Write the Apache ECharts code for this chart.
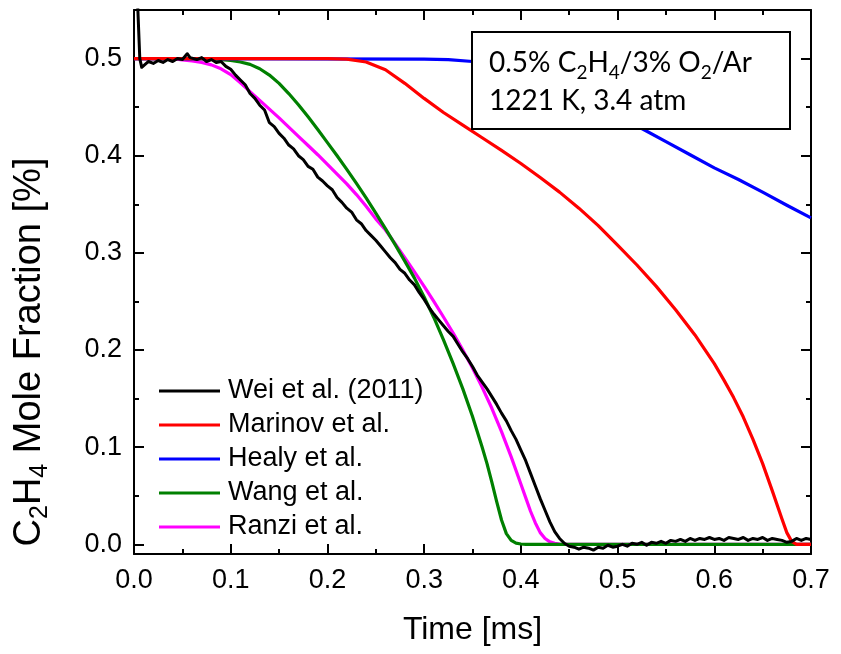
<!DOCTYPE html>
<html>
<head>
<meta charset="utf-8">
<script src="https://cdn.jsdelivr.net/npm/echarts@6/dist/echarts.min.js"></script>
<style>html,body{margin:0;padding:0;background:#fff;}#c{width:841px;height:654px;}</style>
</head>
<body>
<div id="c"></div>
<script>
// ---- data (time in ms, C2H4 mole fraction in %) ----
const legendNames = ['Wei et al. (2011)', 'Marinov et al.', 'Healy et al.', 'Wang et al.', 'Ranzi et al.'];
const xTickValues = [0, 0.1, 0.2, 0.3, 0.4, 0.5, 0.6, 0.7];
const yTickValues = [0, 0.1, 0.2, 0.3, 0.4, 0.5];
const yMinorValues = [0.05, 0.15, 0.25, 0.35, 0.45];

const weiData = [
 [0,0.62],[0.002,0.60],[0.004,0.55],[0.006,0.50],[0.008,0.491],[0.010,0.492],[0.015,0.497],[0.020,0.495],
 [0.025,0.498],[0.030,0.496],[0.035,0.499],[0.040,0.497],[0.045,0.500],[0.050,0.499],[0.055,0.505],[0.058,0.501],
 [0.060,0.503],[0.065,0.499],[0.070,0.501],[0.075,0.497],[0.080,0.499],[0.085,0.496],[0.090,0.497],[0.095,0.492],
 [0.100,0.489],[0.105,0.483],[0.110,0.478],[0.115,0.473],[0.120,0.464],[0.125,0.459],[0.130,0.452],[0.135,0.447],
 [0.140,0.434],[0.145,0.430],[0.150,0.423],[0.155,0.418],[0.160,0.411],[0.165,0.407],[0.170,0.400],[0.175,0.396],
 [0.180,0.389],[0.185,0.386],[0.190,0.378],[0.195,0.374],[0.200,0.369],[0.205,0.365],[0.210,0.357],[0.215,0.352],
 [0.220,0.346],[0.225,0.342],[0.230,0.334],[0.235,0.330],[0.240,0.323],[0.245,0.318],[0.250,0.313],[0.255,0.307],
 [0.260,0.301],[0.265,0.295],[0.270,0.290],[0.275,0.283],[0.280,0.279],[0.285,0.272],[0.290,0.267],[0.295,0.259],
 [0.300,0.252],[0.305,0.244],[0.310,0.237],[0.315,0.231],[0.320,0.225],[0.325,0.219],[0.330,0.214],[0.335,0.206],
 [0.340,0.198],[0.345,0.191],[0.350,0.183],[0.355,0.174],[0.360,0.167],[0.365,0.160],[0.370,0.152],[0.375,0.144],
 [0.380,0.135],[0.385,0.127],[0.390,0.117],[0.395,0.108],[0.400,0.097],[0.405,0.086],[0.410,0.073],[0.415,0.060],
 [0.420,0.047],[0.425,0.035],[0.430,0.023],[0.435,0.013],[0.440,0.006],[0.445,0.001],[0.450,-0.002],[0.455,-0.003],
 [0.460,-0.005],[0.465,-0.003],[0.470,-0.004],[0.475,-0.006],[0.480,-0.003],[0.485,-0.004],[0.490,-0.001],[0.495,-0.003],
 [0.500,-0.002],[0.505,0.000],[0.510,-0.002],[0.515,0.001],[0.520,0.000],[0.525,0.002],[0.530,-0.001],[0.535,0.002],
 [0.540,0.001],[0.545,0.003],[0.550,0.001],[0.555,0.004],[0.560,0.003],[0.565,0.005],[0.570,0.003],[0.575,0.006],
 [0.580,0.004],[0.585,0.006],[0.590,0.005],[0.595,0.007],[0.600,0.005],[0.605,0.006],[0.610,0.004],[0.615,0.007],
 [0.620,0.006],[0.625,0.005],[0.630,0.007],[0.635,0.004],[0.640,0.006],[0.645,0.005],[0.650,0.007],[0.655,0.004],
 [0.660,0.006],[0.665,0.005],[0.670,0.004],[0.675,0.002],[0.680,0.003],[0.685,0.006],[0.690,0.004],[0.695,0.006],
 [0.700,0.005]
];
const marinovData = [
 [0,0.5],[0.2,0.5],[0.22,0.4995],[0.24,0.4965],[0.26,0.4885],[0.28,0.4745],[0.30,0.459],[0.32,0.4445],
 [0.34,0.4315],[0.36,0.4185],[0.38,0.4055],[0.40,0.392],[0.42,0.3775],[0.44,0.3625],[0.46,0.346],[0.48,0.328],
 [0.50,0.308],[0.52,0.2875],[0.54,0.2655],[0.56,0.2415],[0.58,0.2155],[0.60,0.186],[0.61,0.169],[0.62,0.151],
 [0.63,0.131],[0.64,0.108],[0.65,0.083],[0.66,0.055],[0.67,0.026],[0.675,0.012],[0.68,0.003],[0.685,0],[0.7,0]
];
const healyData = [
 [0,0.5],[0.3,0.4995],[0.325,0.499],[0.35,0.497],[0.375,0.4935],[0.4,0.4885],[0.425,0.4805],[0.45,0.4695],
 [0.475,0.4565],[0.5,0.4425],[0.525,0.428],[0.55,0.4145],[0.575,0.401],[0.6,0.3875],[0.625,0.3755],[0.65,0.3625],
 [0.675,0.349],[0.7,0.336]
];
const wangData = [
 [0,0.5],[0.07,0.5],[0.09,0.499],[0.10,0.498],[0.11,0.4965],[0.12,0.494],[0.13,0.4895],[0.14,0.483],
 [0.15,0.4745],[0.16,0.464],[0.17,0.4525],[0.18,0.440],[0.19,0.427],[0.20,0.4135],[0.21,0.400],[0.22,0.386],
 [0.23,0.3715],[0.24,0.3565],[0.25,0.341],[0.26,0.325],[0.27,0.3085],[0.28,0.2915],[0.29,0.274],[0.30,0.2545],
 [0.31,0.2335],[0.32,0.2105],[0.33,0.186],[0.34,0.160],[0.35,0.1315],[0.36,0.100],[0.365,0.083],[0.37,0.064],
 [0.375,0.044],[0.38,0.025],[0.385,0.011],[0.39,0.004],[0.395,0.0012],[0.40,0.0003],[0.405,0],[0.7,0]
];
const ranziData = [
 [0,0.5],[0.04,0.5],[0.05,0.4985],[0.06,0.4975],[0.07,0.496],[0.08,0.4935],[0.09,0.4895],[0.10,0.4835],
 [0.11,0.475],[0.12,0.466],[0.13,0.457],[0.14,0.448],[0.15,0.439],[0.16,0.4295],[0.17,0.420],[0.18,0.4105],
 [0.19,0.401],[0.20,0.391],[0.21,0.381],[0.22,0.371],[0.23,0.360],[0.24,0.348],[0.25,0.335],[0.26,0.3235],
 [0.27,0.3095],[0.28,0.295],[0.29,0.2805],[0.30,0.2655],[0.31,0.250],[0.32,0.234],[0.33,0.2175],[0.34,0.200],
 [0.35,0.1815],[0.36,0.1615],[0.37,0.140],[0.38,0.116],[0.39,0.090],[0.40,0.062],[0.405,0.048],[0.41,0.034],
 [0.415,0.022],[0.42,0.012],[0.425,0.006],[0.43,0.0025],[0.435,0.001],[0.44,0.0003],[0.45,0],[0.7,0]
];
const seriesColors = ['#000000', '#ff0000', '#0000ff', '#008000', '#ff00ff'];

// ---- chart ----
const chart = echarts.init(document.getElementById('c'), null, {renderer: 'canvas'});
const F = '"Liberation Sans", Arial, sans-serif';
const fmt = v => v.toFixed(1);

function xAx(pos, show) {
  return {
    type: 'value', position: pos, min: 0, max: 0.7, interval: 0.1,
    axisLine: {show: true, onZero: false, lineStyle: {color: '#000', width: 2}},
    axisTick: {show: true, inside: true, length: 10, lineStyle: {color: '#000', width: 2}},
    minorTick: {show: true, splitNumber: 2, length: 5, lineStyle: {color: '#000', width: 2}},
    axisLabel: {show: show, margin: 13, fontSize: 27, color: '#000', fontFamily: F, formatter: fmt},
    splitLine: {show: false}, minorSplitLine: {show: false},
    name: show ? 'Time [ms]' : '', nameLocation: 'middle', nameGap: 57,
    nameTextStyle: {fontSize: 32, color: '#000', fontFamily: F, lineHeight: 38}
  };
}
function yAx(pos, values, len, line, labels) {
  return {
    type: 'value', position: pos, min: -0.01, max: 0.55,
    axisLine: {show: line, onZero: false, lineStyle: {color: '#000', width: 2}},
    axisTick: {show: true, inside: true, length: len, customValues: values, lineStyle: {color: '#000', width: 2}},
    axisLabel: {show: labels, customValues: values, margin: 12, fontSize: 27, color: '#000', fontFamily: F, formatter: fmt},
    splitLine: {show: false}
  };
}

const order = [4, 3, 2, 1, 0]; // draw order: Ranzi, Wang, Healy, Marinov, Wei on top
const allData = [weiData, marinovData, healyData, wangData, ranziData];
const series = order.map(i => ({
  name: legendNames[i], type: 'line', data: allData[i],
  xAxisIndex: 0, yAxisIndex: 0,
  showSymbol: false, symbol: 'none', smooth: false, clip: true,
  lineStyle: {color: seriesColors[i], width: i === 0 ? 3 : 3.2, join: 'round'},
  itemStyle: {color: seriesColors[i]},
  emphasis: {disabled: true}, animation: false
}));

const annFont = 'Lato, "Open Sans", sans-serif';
chart.setOption({
  animation: false,
  backgroundColor: '#fff',
  grid: {left: 134, right: 30, top: 10, bottom: 94, containLabel: false},
  xAxis: [xAx('bottom', true), xAx('top', false)],
  yAxis: [
    yAx('left', yTickValues, 10, true, true),
    yAx('left', yMinorValues, 5, false, false),
    yAx('right', yTickValues, 10, true, false),
    yAx('right', yMinorValues, 5, false, false)
  ],
  legend: {
    data: legendNames, orient: 'vertical', left: 159, top: 374, padding: 0,
    icon: 'rect', itemWidth: 61, itemHeight: 3, itemGap: 0,
    textStyle: {fontSize: 27, lineHeight: 34, color: '#000', fontFamily: F, padding: [0, 0, 0, 3]},
    selectedMode: false
  },
  series: series,
  graphic: [
    {type: 'text', x: 30, y: 352, rotation: Math.PI / 2, z: 50,
     style: {
       text: '{n|C}{s|2}{n|H}{s|4}{n| Mole Fraction [%]}',
       align: 'center', verticalAlign: 'middle', fill: '#000',
       rich: {
         n: {fontSize: 38, lineHeight: 46, fontFamily: F, fill: '#000', verticalAlign: 'middle'},
         s: {fontSize: 25, lineHeight: 20, fontFamily: F, fill: '#000', verticalAlign: 'bottom'}
       }
     }},
    {type: 'rect', left: 471, top: 31, z: 100,
     shape: {width: 318, height: 97}, style: {fill: '#fff', stroke: '#000', lineWidth: 2}},
    {type: 'text', left: 489, top: 49, z: 101,
     style: {
       text: '{n|0.5% C}{s|2}{n|H}{s|4}{n|/3% O}{s|2}{n|/Ar}\n{n|1221 K, 3.4 atm}',
       fill: '#000',
       rich: {
         n: {fontSize: 28, lineHeight: 38, fontFamily: annFont, fill: '#000', verticalAlign: 'middle'},
         s: {fontSize: 19, lineHeight: 18, fontFamily: annFont, fill: '#000', verticalAlign: 'bottom'}
       }
     }}
  ]
});
</script>
</body>
</html>
